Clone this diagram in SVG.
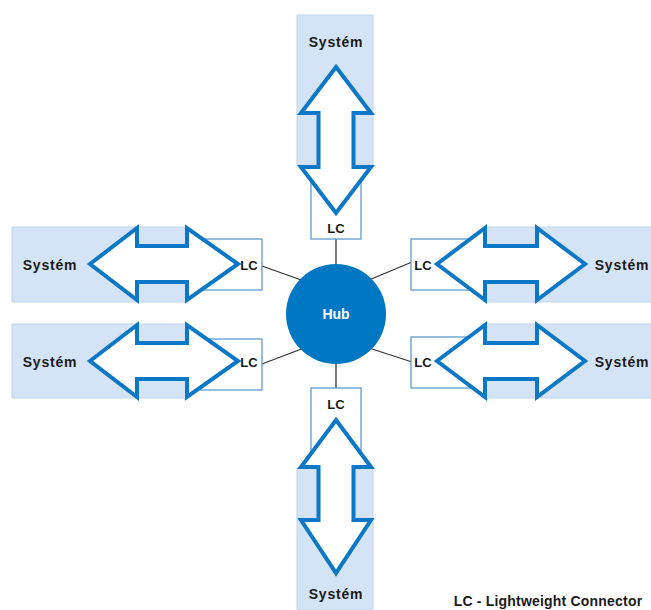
<svg xmlns="http://www.w3.org/2000/svg" width="651" height="610" viewBox="0 0 651 610">
  <style>
    .sys { fill: #d4e3f5; stroke: #c3d5ec; stroke-width: 1; }
    .lc { fill: #ffffff; stroke: #4f93cb; stroke-width: 1.2; }
    .arrow { fill: #ffffff; stroke: #0a78c6; stroke-width: 4; stroke-linejoin: miter; }
    .link { stroke: #333333; stroke-width: 1.3; fill: none; }
    .lbl { font-family: "Liberation Sans", Arial, sans-serif; font-weight: bold; fill: #1a1a1a; text-anchor: middle; dominant-baseline: central; }
    .sysl { font-size: 14px; letter-spacing: 0.8px; }
    .lcl { font-size: 13px; }
    .hub { fill: #0077c2; }
    .hubl { font-size: 14px; fill: #ffffff; }
    .legend { font-size: 14px; letter-spacing: 0.2px; }
  </style>

  <rect width="651" height="610" fill="#ffffff"/>

  <!-- connectors between the LC boxes and the hub -->
  <g id="connectors">
    <line class="link" x1="336" y1="239" x2="336" y2="268"/>
    <line class="link" x1="336" y1="360" x2="336" y2="388"/>
    <line class="link" x1="262" y1="266" x2="304" y2="281"/>
    <line class="link" x1="412" y1="262" x2="369" y2="280"/>
    <line class="link" x1="262" y1="364" x2="304" y2="348"/>
    <line class="link" x1="412" y1="362" x2="369" y2="348"/>
  </g>

  <!-- top system -->
  <g id="system-top">
    <rect class="sys" x="297" y="15" width="76" height="150"/>
    <rect class="lc" x="311" y="172" width="50" height="67"/>
    <path class="arrow" d="M336,67 L371,113 L353.5,113 L353.5,167 L371,167 L336,213 L301,167 L318.5,167 L318.5,113 L301,113 Z"/>
    <text class="lbl sysl" x="336" y="42">Systém</text>
    <text class="lbl lcl" x="336" y="228">LC</text>
  </g>

  <!-- bottom system -->
  <g id="system-bottom">
    <rect class="sys" x="297" y="468" width="76" height="142"/>
    <rect class="lc" x="311" y="388" width="50" height="70"/>
    <path class="arrow" d="M336,420 L371,467 L353.5,467 L353.5,520 L371,520 L336,573 L301,520 L318.5,520 L318.5,467 L301,467 Z"/>
    <text class="lbl sysl" x="336" y="594">Systém</text>
    <text class="lbl lcl" x="336" y="404">LC</text>
  </g>

  <!-- upper left system -->
  <g id="system-upper-left">
    <rect class="sys" x="12" y="227" width="175" height="75"/>
    <rect class="lc" x="200" y="239" width="62" height="51"/>
    <path class="arrow" d="M90,264 L137,228 L137,246 L187,246 L187,228 L238,264 L187,300 L187,282 L137,282 L137,300 Z"/>
    <text class="lbl sysl" x="50" y="265">Systém</text>
    <text class="lbl lcl" x="249" y="265">LC</text>
  </g>

  <!-- lower left system -->
  <g id="system-lower-left">
    <rect class="sys" x="12" y="324" width="175" height="74"/>
    <rect class="lc" x="200" y="339" width="62" height="51"/>
    <path class="arrow" d="M90,361 L137,325 L137,343 L187,343 L187,325 L238,361 L187,397 L187,379 L137,379 L137,397 Z"/>
    <text class="lbl sysl" x="50" y="362">Systém</text>
    <text class="lbl lcl" x="249" y="362">LC</text>
  </g>

  <!-- upper right system -->
  <g id="system-upper-right">
    <rect class="sys" x="485" y="227" width="175" height="75"/>
    <rect class="lc" x="411" y="239" width="62" height="51"/>
    <path class="arrow" d="M437,264 L485,228 L485,246 L537,246 L537,228 L585,264 L537,300 L537,282 L485,282 L485,300 Z"/>
    <text class="lbl sysl" x="622" y="265">Systém</text>
    <text class="lbl lcl" x="423" y="265">LC</text>
  </g>

  <!-- lower right system -->
  <g id="system-lower-right">
    <rect class="sys" x="485" y="324" width="175" height="74"/>
    <rect class="lc" x="411" y="337" width="62" height="51"/>
    <path class="arrow" d="M437,361 L485,325 L485,343 L537,343 L537,325 L585,361 L537,397 L537,379 L485,379 L485,397 Z"/>
    <text class="lbl sysl" x="622" y="362">Systém</text>
    <text class="lbl lcl" x="423" y="362">LC</text>
  </g>

  <!-- central hub -->
  <g id="hub">
    <circle class="hub" cx="336" cy="314" r="50"/>
    <text class="lbl hubl" x="336" y="314">Hub</text>
  </g>

  <!-- legend -->
  <g id="legend">
    <text class="lbl legend" x="548" y="601">LC - Lightweight Connector</text>
  </g>
</svg>
